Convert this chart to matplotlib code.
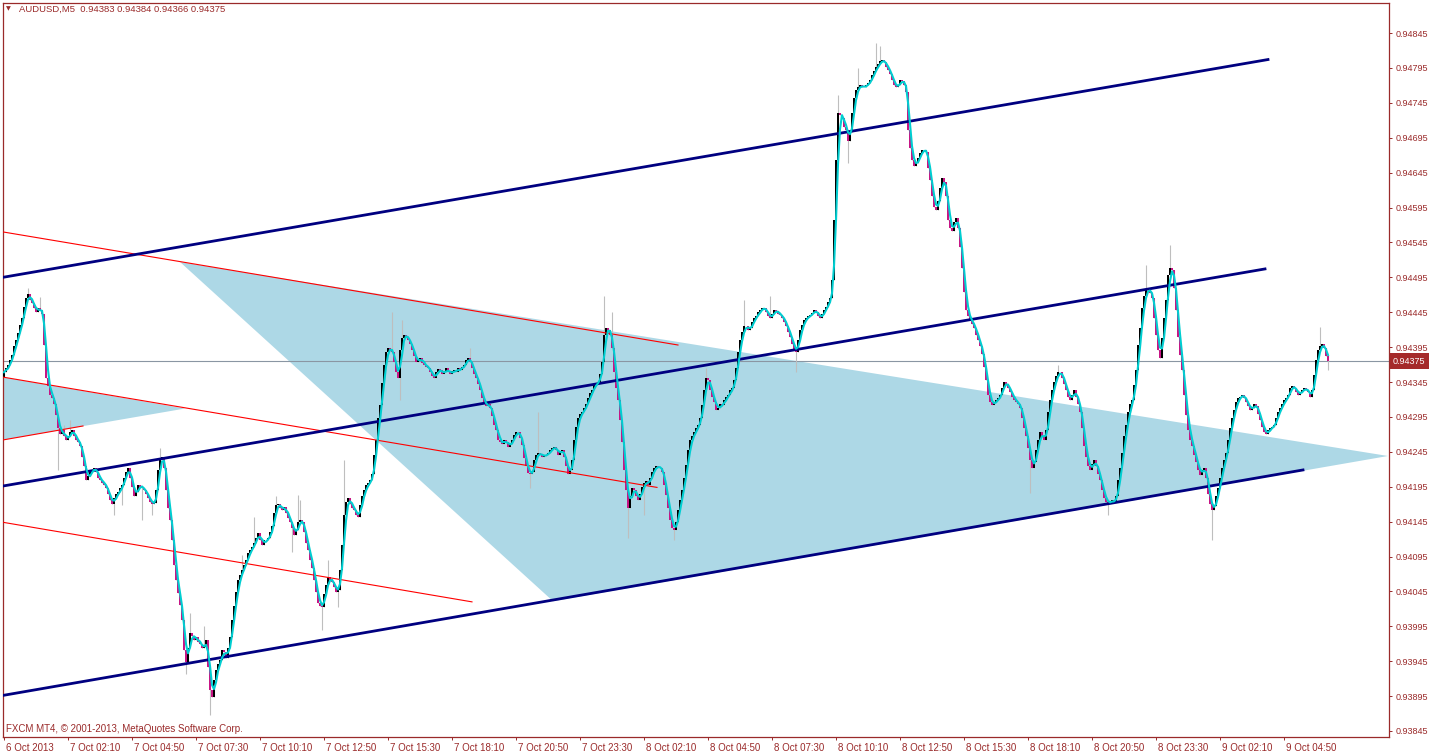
import matplotlib
matplotlib.use("Agg")
import matplotlib.pyplot as plt
from matplotlib.patches import Polygon
from matplotlib.transforms import ScaledTranslation, blended_transform_factory
import numpy as np
import pandas as pd

plt.rcParams['font.family'] = ['Liberation Sans', 'DejaVu Sans']

# AUDUSD M5 closes, in points (1e-5), first bar 6 Oct 23:30
closes = [
    94359, 94365, 94369, 94376, 94384, 94396, 94405, 94415, 94427, 94437,
    94453, 94466, 94471, 94462, 94458, 94451, 94445, 94451, 94448, 94442,
    94398, 94351, 94339, 94327, 94322, 94313, 94298, 94279, 94270, 94276,
    94267, 94262, 94267, 94273, 94276, 94267, 94262, 94259, 94253, 94238,
    94224, 94204, 94210, 94216, 94219, 94222, 94216, 94208, 94204, 94201,
    94198, 94193, 94184, 94176, 94170, 94179, 94184, 94187, 94193, 94198,
    94208, 94216, 94222, 94208, 94195, 94181, 94187, 94198, 94195, 94193,
    94190, 94184, 94179, 94173, 94170, 94172, 94190, 94219, 94236, 94238,
    94222, 94190, 94165, 94147, 94118, 94083, 94061, 94043, 94026, 94004,
    93961, 93944, 93964, 93986, 93981, 93975, 93979, 93972, 93969, 93964,
    93966, 93975, 93936, 93904, 93893, 93918, 93933, 93941, 93947, 93961,
    93958, 93950, 93964, 93979, 94004, 94024, 94044, 94061, 94069, 94076,
    94083, 94090, 94100, 94104, 94109, 94115, 94122, 94129, 94118, 94112,
    94118, 94118, 94122, 94130, 94138, 94158, 94169, 94170, 94165, 94161,
    94166, 94158, 94150, 94144, 94136, 94126, 94133, 94144, 94147, 94144,
    94130, 94115, 94104, 94090, 94079, 94061, 94044, 94029, 94024, 94023,
    94041, 94054, 94066, 94061, 94058, 94052, 94044, 94047, 94076, 94111,
    94154, 94173, 94179, 94170, 94165, 94161, 94155, 94151, 94169, 94181,
    94190, 94197, 94200, 94204, 94213, 94240, 94262, 94294, 94312, 94344,
    94369, 94388, 94394, 94391, 94388, 94373, 94359, 94351, 94391, 94408,
    94413, 94410, 94405, 94399, 94391, 94382, 94373, 94376, 94380, 94372,
    94370, 94366, 94365, 94359, 94353, 94351, 94359, 94363, 94362, 94356,
    94359, 94365, 94359, 94356, 94361, 94362, 94359, 94365, 94362, 94367,
    94370, 94376, 94380, 94373, 94365, 94356, 94351, 94342, 94333, 94322,
    94313, 94310, 94313, 94308, 94296, 94284, 94276, 94262, 94259, 94256,
    94262, 94259, 94252, 94256, 94262, 94269, 94273, 94273, 94265, 94255,
    94236, 94224, 94215, 94213, 94216, 94233, 94240, 94244, 94241, 94238,
    94240, 94241, 94243, 94247, 94251, 94252, 94247, 94241, 94246, 94247,
    94238, 94224, 94213, 94219, 94233, 94262, 94281, 94294, 94299, 94302,
    94308, 94313, 94322, 94329, 94333, 94341, 94344, 94345, 94356, 94373,
    94413, 94423, 94419, 94413, 94394, 94359, 94337, 94319, 94290, 94259,
    94219, 94190, 94165, 94181, 94193, 94190, 94181, 94176, 94184, 94194,
    94201, 94203, 94198, 94208, 94216, 94222, 94224, 94223, 94222, 94216,
    94198, 94183, 94165, 94147, 94136, 94133, 94144, 94161, 94176, 94190,
    94208, 94226, 94247, 94262, 94267, 94273, 94279, 94284, 94294, 94312,
    94333, 94351, 94348, 94333, 94324, 94316, 94305, 94308, 94313, 94312,
    94319, 94324, 94327, 94333, 94337, 94348, 94365, 94388, 94405, 94416,
    94425, 94425, 94419, 94423, 94431, 94437, 94439, 94445, 94448, 94451,
    94451, 94445, 94439, 94437, 94442, 94448, 94447, 94442, 94441, 94437,
    94431, 94425, 94416, 94410, 94399, 94391, 94388, 94405, 94419, 94427,
    94434, 94437, 94439, 94441, 94444, 94448, 94445, 94439, 94437, 94442,
    94448, 94453, 94459, 94466, 94491, 94577, 94663, 94731, 94728, 94723,
    94711, 94706, 94691, 94703, 94731, 94752, 94763, 94768, 94770, 94767,
    94768, 94770, 94774, 94777, 94785, 94791, 94796, 94800, 94805, 94806,
    94803, 94797, 94792, 94786, 94777, 94770, 94767, 94771, 94777, 94776,
    94771, 94760, 94706, 94680, 94663, 94654, 94659, 94666, 94673, 94677,
    94678, 94674, 94652, 94634, 94611, 94596, 94591, 94605, 94623, 94637,
    94631, 94611, 94577, 94566, 94562, 94574, 94580, 94566, 94539, 94508,
    94474, 94448, 94439, 94434, 94428, 94423, 94413, 94405, 94396, 94385,
    94367, 94348, 94327, 94316, 94312, 94316, 94319, 94322, 94326, 94337,
    94345, 94342, 94337, 94330, 94324, 94319, 94316, 94313, 94308, 94294,
    94279, 94267, 94251, 94233, 94222, 94230, 94247, 94262, 94273, 94267,
    94262, 94276, 94302, 94319, 94333, 94345, 94353, 94359, 94359, 94351,
    94342, 94333, 94324, 94319, 94327, 94333, 94324, 94313, 94302, 94279,
    94253, 94238, 94224, 94219, 94227, 94233, 94224, 94213, 94204, 94190,
    94179, 94173, 94172, 94173, 94176, 94173, 94181, 94204, 94222, 94244,
    94267, 94283, 94302, 94313, 94319, 94341, 94362, 94398, 94423, 94451,
    94468, 94477, 94478, 94473, 94466, 94437, 94412, 94391, 94380, 94408,
    94437, 94462, 94498, 94508, 94505, 94480, 94448, 94410, 94384, 94362,
    94326, 94298, 94276, 94262, 94253, 94240, 94230, 94219, 94212, 94219,
    94222, 94208, 94184, 94170, 94161, 94167, 94181, 94193, 94208, 94222,
    94233, 94244, 94262, 94279, 94294, 94305, 94316, 94322, 94324, 94327,
    94322, 94316, 94310, 94305, 94308, 94313, 94310, 94299, 94290, 94281,
    94273, 94270, 94276, 94279, 94281, 94284, 94294, 94302, 94308, 94313,
    94319, 94322, 94327, 94337, 94339, 94337, 94330, 94327, 94330, 94333,
    94337, 94333, 94330, 94324, 94333, 94355, 94376, 94391, 94396, 94399,
    94394, 94382, 94375,
]
first_open = 94352

# the longer shadows (bar index -> price in points)
wick_hi = {12: 94480, 18: 94467, 30: 94283, 33: 94290, 78: 94251, 93: 94014,
           100: 93995, 119: 94097, 125: 94151, 136: 94181, 147: 94183,
           148: 94176, 162: 94090, 170: 94233, 194: 94445, 199: 94434,
           233: 94394, 267: 94302, 300: 94468, 304: 94445, 351: 94365,
           370: 94462, 383: 94468, 417: 94756, 427: 94795, 436: 94830,
           438: 94827, 527: 94369, 571: 94512, 583: 94541, 658: 94424}
wick_lo = {27: 94219, 55: 94154, 59: 94169, 69: 94147, 74: 94154, 91: 93926,
           103: 93868, 144: 94101, 159: 93990, 167: 94023, 198: 94319,
           263: 94193, 312: 94122, 320: 94154, 335: 94118, 396: 94359,
           422: 94659, 513: 94186, 552: 94154, 604: 94118, 662: 94362}

time_ticks = [0, 32, 64, 96, 128, 160, 192, 224, 256, 288, 320, 352, 384,
              416, 448, 480, 512, 544, 576, 608, 640]
time_labels = ["6 Oct 2013", "7 Oct 02:10", "7 Oct 04:50", "7 Oct 07:30",
               "7 Oct 10:10", "7 Oct 12:50", "7 Oct 15:30", "7 Oct 18:10",
               "7 Oct 20:50", "7 Oct 23:30", "8 Oct 02:10", "8 Oct 04:50",
               "8 Oct 07:30", "8 Oct 10:10", "8 Oct 12:50", "8 Oct 15:30",
               "8 Oct 18:10", "8 Oct 20:50", "8 Oct 23:30", "9 Oct 02:10",
               "9 Oct 04:50"]
price_ticks = [0.93845, 0.93895, 0.93945, 0.93995, 0.94045, 0.94095, 0.94145,
               0.94195, 0.94245, 0.94295, 0.94345, 0.94395, 0.94445, 0.94495,
               0.94545, 0.94595, 0.94645, 0.94695, 0.94745, 0.94795, 0.94845]
last_price = 0.94375

# drawn objects: (bar index, price) anchors
channel_top = [(-0.5, 0.94495), (632.0, 0.94807)]
channel_mid = [(-0.5, 0.94196), (630.5, 0.94507)]
channel_bot = [(-0.5, 0.93896), (649.5, 0.94219)]
red_top = [(-0.5, 0.94560), (337.0, 0.94398)]
red_mid = [(-0.5, 0.94352), (326.5, 0.94194)]
red_low = [(-0.5, 0.94144), (234.0, 0.94030)]
red_short = [(-0.5, 0.94262), (39.5, 0.94282)]
tri_small = [(-0.5, 0.94352), (-0.5, 0.94262), (90.5, 0.94307)]
tri_big = [(88.0, 0.94517), (274.5, 0.94031), (692.0, 0.94239)]

fg = '#9A2A2A'

c = np.array(closes) / 1e5
o = np.concatenate([[first_open / 1e5], c[:-1]])
n = len(c)
x = np.arange(n)
hi = np.maximum(o, c)
lo = np.minimum(o, c)
for k, v in wick_hi.items():
    hi[k] = max(hi[k], v / 1e5)
for k, v in wick_lo.items():
    lo[k] = min(lo[k], v / 1e5)
ma = pd.Series(c).rolling(3, min_periods=1).mean()

fig = plt.figure(figsize=(14.32, 7.55), dpi=100)
ax = fig.add_axes([3 / 1432, 18 / 755, 1386 / 1432, 734 / 755])
ax.set_xlim(-0.5, 692.5)
ax.set_ylim(0.938364, 0.948880)

# background triangles
for tri in (tri_small, tri_big):
    ax.add_patch(Polygon(tri, closed=True, fc='#ADD8E6', ec='none', zorder=1))

ax.axhline(last_price, color='#8A96A3', lw=0.8, zorder=1.5)

# candles
ax.vlines(x, lo, hi, colors='#BEBEBE', lw=0.8, zorder=2)
up = c >= o
bot = np.minimum(o, c)
body = np.maximum(np.abs(c - o), 0.000007)
ax.bar(x[up], body[up], bottom=bot[up], width=1.0, color='black', lw=0, zorder=3)
ax.bar(x[~up], body[~up], bottom=bot[~up], width=1.0, color='#C71585', lw=0, zorder=3)

# trend lines
for ln in (red_top, red_mid, red_low, red_short):
    xs, ys = zip(*ln)
    ax.plot(xs, ys, color='red', lw=0.8, zorder=4)
for ln in (channel_top, channel_mid, channel_bot):
    xs, ys = zip(*ln)
    ax.plot(xs, ys, color='#000080', lw=2.0, zorder=4)

ax.plot(x, ma, color='#00CED1', lw=1.5, zorder=5)

# frame and axes
for s in ax.spines.values():
    s.set_color(fg)
    s.set_linewidth(0.9)
ax.yaxis.tick_right()
ax.set_yticks(price_ticks)
ax.set_yticklabels(['%.5f' % p for p in price_ticks])
ax.set_xticks(time_ticks)
ax.set_xticklabels(time_labels)
ax.tick_params(axis='both', direction='out', length=2.5, width=0.7,
               color=fg, labelcolor=fg, labelsize=6.5)
ax.tick_params(axis='x', pad=1.5, labelsize=7)
ax.tick_params(axis='y', pad=2)
shift = ScaledTranslation(1.5 / 100, 0, fig.dpi_scale_trans)
for lab in ax.get_xticklabels():
    lab.set_horizontalalignment('left')
    lab.set_transform(lab.get_transform() + shift)

# current price tag
tr = blended_transform_factory(fig.transFigure, ax.transData)
ax.text(1393 / 1432, last_price, '%.5f' % last_price, transform=tr,
        color='white', fontsize=6.5, va='center', ha='left', clip_on=False,
        bbox=dict(boxstyle='square,pad=0.35', fc='#A52A2A', ec='none'),
        zorder=6)

fig.text(6 / 1432, 1 - 9 / 755, '\u25bc', color=fg, fontsize=4.5,
         va='center', ha='left', family=['DejaVu Sans'])
fig.text(19 / 1432, 1 - 9 / 755, 'AUDUSD,M5  0.94383 0.94384 0.94366 0.94375',
         color=fg, fontsize=6.8, va='center', ha='left')
fig.text(6 / 1432, 1 - 729 / 755,
         'FXCM MT4, \u00a9 2001-2013, MetaQuotes Software Corp.',
         color=fg, fontsize=7, va='center', ha='left')

fig.savefig('out.png', dpi=100)
